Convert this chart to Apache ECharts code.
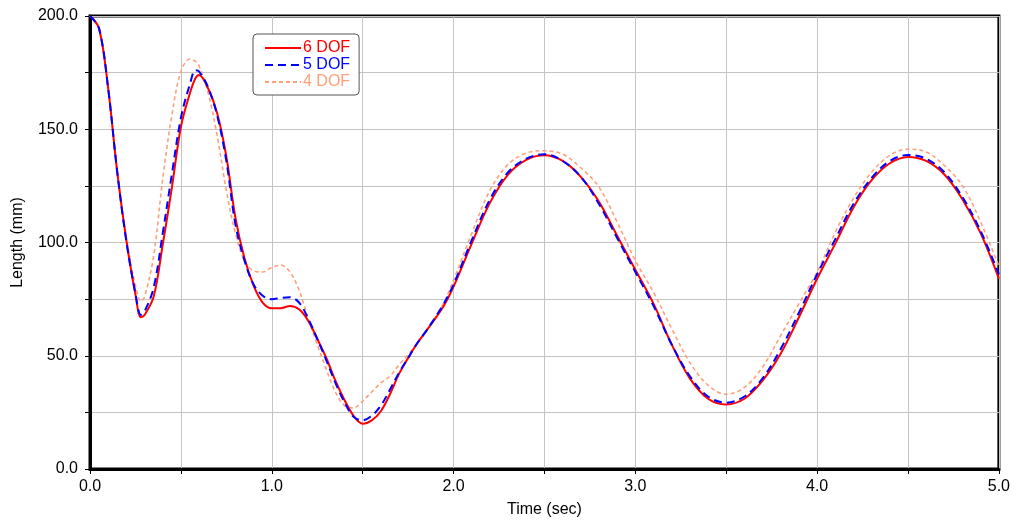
<!DOCTYPE html>
<html>
<head>
<meta charset="utf-8">
<script src="https://cdn.jsdelivr.net/npm/echarts@6/dist/echarts.min.js"></script>
<style>html,body{margin:0;padding:0;background:#fff;}#c{width:1013px;height:523px;}</style>
</head>
<body>
<div id="c"></div>
<script>
const times = [0,0.05,0.1,0.15,0.2,0.25,0.28,0.3,0.35,0.4,0.45,0.5,0.55,0.58,0.6,0.65,0.7,0.75,0.8,0.85,0.9,0.95,1.0,1.05,1.1,1.15,1.2,1.25,1.3,1.35,1.4,1.45,1.5,1.55,1.6,1.65,1.7,1.75,1.8,1.85,1.9,1.95,2.0,2.1,2.2,2.3,2.4,2.5,2.6,2.7,2.8,2.9,3.0,3.1,3.2,3.3,3.4,3.5,3.6,3.7,3.8,3.9,4.0,4.1,4.2,4.3,4.4,4.5,4.6,4.7,4.8,4.9,5.0];
const dof6 = [200,194.5,168,131,101,77,67,68,76,99,124,151,166,172.5,174,168,157,138,111,93,81,73.5,71,71,72,70.5,65.5,57.5,49,39,30.5,23.5,20,21.5,25.5,33,42,49,55.5,61,66.5,72.5,80.5,99.5,117.5,130,136.5,138.5,136,129,118,103,88,73,55,40,31,28.5,31,39,51,67,84,99.5,115.5,127.5,135,137.8,136,130,119,104,84];
const dof5 = [200,194.5,168,131,100.5,77.5,68,69.5,80,104,130,155,170,176,175.5,168.5,156,136,108,92,81.5,76.5,75,75.5,75.8,73.5,66.5,57.5,48,38,29.5,23,21.5,23.5,28,35,42.5,49,55.5,61,67,73.5,81.5,101,119,131,137,139,136,129,117,102,87,72,55,41,32,29.3,32,40,53,69,86,101.5,117,128.5,136,138.6,137,131,120,105,86];
const dof4 = [200,194,168,131,102,81,74,76,94,128,156,175.5,181,180,178,166,147,123,104,92,87.5,87,89,90,87,79,66.5,55,44,34,28,27,30,34,38,41,46,50.5,55.5,61,67,74,83.5,104,123,134.5,139.5,140.5,139,133,124.5,109,92,78,62,47,37,33,36,45,59,73,87,104.5,119.5,131,138.5,141.2,140,134,125,109,89.5];
const seriesNames = ['6 DOF','5 DOF','4 DOF'];
const xLabels = ['0.0','1.0','2.0','3.0','4.0','5.0'];
const yLabels = ['0.0','50.0','100.0','150.0','200.0'];

const colors = ['#ff0000','#0000ff','#ffa07a'];
const pair = arr => times.map((t,i)=>[t,arr[i]]);
const font = '"Liberation Sans", Arial, sans-serif';

const chart = echarts.init(document.getElementById('c'), null, {renderer:'canvas'});
chart.setOption({
  animation:false,
  backgroundColor:'#fff',
  grid:{left:90,right:14,top:16,bottom:50,show:true,borderColor:'#000',borderWidth:3,backgroundColor:'transparent'},
  legend:{
    orient:'vertical', left:253, top:34,
    padding:[6,9,5,11],
    backgroundColor:'#fff', borderColor:'#555', borderWidth:1, borderRadius:4,
    itemWidth:36, itemHeight:12, itemGap:1,
    itemStyle:{color:'transparent',borderWidth:0,opacity:0},
    textStyle:{fontFamily:font,fontSize:16,lineHeight:16,padding:[0,0,0,-3]},
    data:seriesNames.map((n,i)=>({name:n,textStyle:{color:colors[i]}}))
  },
  xAxis:{
    type:'value', min:0, max:5, interval:0.5,
    name:'Time (sec)', nameLocation:'middle', nameGap:33,
    nameTextStyle:{fontFamily:font,fontSize:16,color:'#000'},
    axisLine:{show:true,onZero:false,lineStyle:{color:'#000',width:3}},
    axisTick:{show:true,length:5,lineStyle:{color:'#000',width:1}},
    axisLabel:{margin:10,fontFamily:font,fontSize:16,color:'#000',
      formatter:v=>{const k=Math.round(v*2);return k%2===0?xLabels[k/2]:'';}},
    splitLine:{show:true,lineStyle:{color:'#c4c4c4',width:1}}
  },
  yAxis:{
    type:'value', min:0, max:200, interval:25,
    name:'Length (mm)', nameLocation:'middle', nameGap:64,
    nameTextStyle:{fontFamily:font,fontSize:16,color:'#000'},
    axisLine:{show:true,onZero:false,lineStyle:{color:'#000',width:3}},
    axisTick:{show:true,length:5,lineStyle:{color:'#000',width:1}},
    axisLabel:{margin:12,fontFamily:font,fontSize:16,color:'#000',
      formatter:v=>{const k=Math.round(v/25);return k%2===0?yLabels[k/2]:'';}},
    splitLine:{show:true,lineStyle:{color:'#c4c4c4',width:1}}
  },
  series:[
    {name:seriesNames[2],type:'line',data:pair(dof4),symbol:'none',smooth:0.35,z:2,
      lineStyle:{color:colors[2],width:1.6,type:[4,3]},itemStyle:{color:colors[2]}},
    {name:seriesNames[0],type:'line',data:pair(dof6),symbol:'none',smooth:0.35,z:3,
      lineStyle:{color:colors[0],width:2},itemStyle:{color:colors[0]}},
    {name:seriesNames[1],type:'line',data:pair(dof5),symbol:'none',smooth:0.35,z:4,
      lineStyle:{color:colors[1],width:2,type:[8,5]},itemStyle:{color:colors[1]}}
  ]
});
</script>
</body>
</html>
